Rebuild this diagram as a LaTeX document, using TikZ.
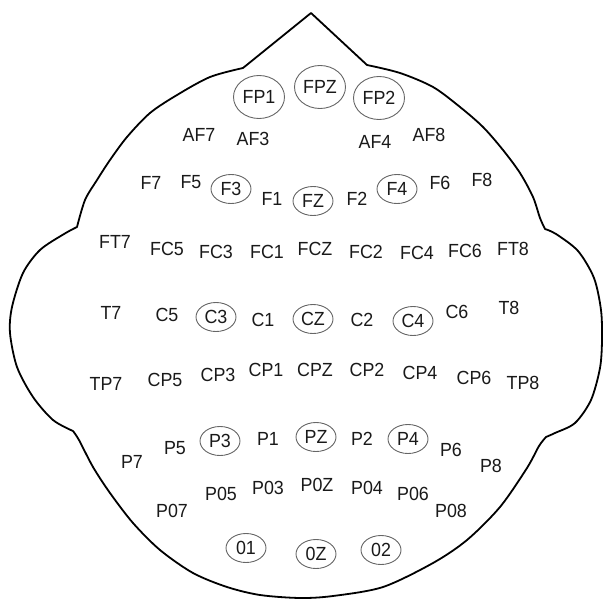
\documentclass[tikz,border=0pt]{standalone}
\usepackage{fontspec}
\setmainfont{Liberation Sans}[FakeStretch=0.94]
\usetikzlibrary{shapes.geometric}
\begin{document}
\begin{tikzpicture}[x=1pt,y=-1pt,
  lbl/.style={font=\fontsize{19}{21}\selectfont, text=black!90, inner sep=0pt},
  elec/.style={lbl, ellipse, draw=black!60, line width=0.9pt, minimum width=40pt, minimum height=29pt},
  bigelec/.style={elec, minimum width=51pt, minimum height=43pt},
  headline/.style={draw=black, line width=1.8pt, line join=round}]
\useasboundingbox (0,0) rectangle (605,599);
% head outline
\draw[headline] (243,68) -- (311,13) -- (367,65)
  -- plot[smooth] coordinates {(367,65) (400,73) (433,87) (460,107) (483,127) (503,150) (520,173) (533,197) (540,218) (545,229)}
  -- plot[smooth] coordinates {(545,229) (556,234) (578,251) (594,278) (601,310) (602,340) (600,368) (591,400) (575,423) (555,433) (546,437)}
  -- plot[smooth] coordinates {(546,437) (539,446) (527,468) (500,507) (467,540) (433,563) (383,587) (333,596) (300,598) (260,595) (227,587) (193,573) (160,550) (133,523) (110,493) (93,467) (79,440) (73,431)}
  -- plot[smooth] coordinates {(73,431) (53,420) (33,397) (17,367) (10,333) (12,307) (23,273) (40,250) (64,234) (77,227)}
  -- plot[smooth] coordinates {(77,227) (85,200) (97,180) (110,160) (127,137) (150,113) (177,95) (210,77) (243,68)}
  -- cycle;
% large electrodes
\foreach \n/\x/\y in {FP1/259/97, FPZ/320/87, FP2/379/98}
  \node[bigelec] (\n) at (\x,\y) {\n};
% circled electrodes
\foreach \n/\x/\y in {F3/231/189, FZ/313/201, F4/397/189,
                      C3/216/317, CZ/313/319, C4/413/321,
                      P3/220/441, PZ/316/437, P4/408/439,
                      01/246/548, 0Z/316/554, 02/381/550}
  \node[elec] (\n) at (\x,\y) {\n};
% plain labels
\foreach \n/\x/\y in {AF7/199/135, AF3/253/139, AF4/375/142, AF8/429/135,
                      F7/151/183, F5/191/182, F1/272/199, F2/357/199, F6/440/183, F8/482/180,
                      FT7/115/242, FC5/167/249, FC3/216/252, FC1/267/252, FCZ/315/249,
                      FC2/366/252, FC4/417/253, FC6/465/251, FT8/513/249,
                      T7/111/313, C5/167/315, C1/263/320, C2/362/320, C6/457/312, T8/509/308,
                      TP7/106/384, CP5/165/380, CP3/218/375, CP1/266/370, CPZ/315/370,
                      CP2/367/370, CP4/420/373, CP6/474/378, TP8/523/383,
                      P7/132/462, P5/175/448, P1/268/439, P2/362/439, P6/451/450, P8/491/466,
                      P07/172/511, P05/221/494, P03/268/488, P0Z/317/485,
                      P04/367/488, P06/413/494, P08/451/511}
  \node[lbl] (\n) at (\x,\y) {\n};
\end{tikzpicture}
\end{document}
